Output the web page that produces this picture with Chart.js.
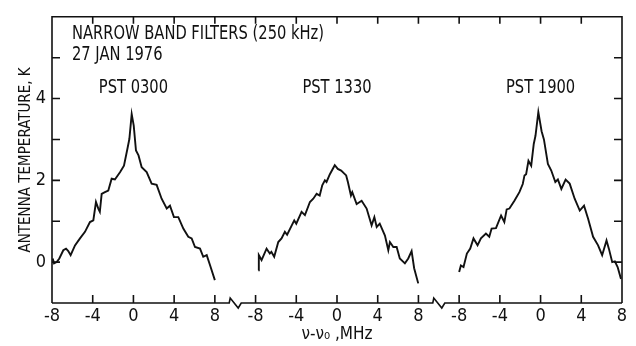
<!DOCTYPE html>
<html>
<head>
<meta charset="utf-8">
<script src="https://cdn.jsdelivr.net/npm/chart.js@4.4.1/dist/chart.umd.min.js"></script>
<style>
  html, body { margin: 0; padding: 0; background: #fff; }
</style>
</head>
<body>
<canvas id="chart" width="636" height="346"></canvas>
<script>
// values: frequency offset (MHz) and antenna temperature (K)
const panelLabels = ['PST 0300', 'PST 1330', 'PST 1900'];
const yLabelTicks = [0, 2, 4];

const freq0300 = [-7.93, -7.8, -7.54, -7.28, -6.89, -6.62, -6.4, -6.17, -5.74, -5.25, -4.76, -4.27, -3.94, -3.68, -3.45, -3.3, -3.12, -2.8, -2.47, -2.14, -1.82, -1.32, -0.93, -0.6, -0.4, -0.17, 0.03, 0.25, 0.5, 0.81, 1.3, 1.79, 2.28, 2.77, 3.27, 3.59, 3.98, 4.41, 4.9, 5.39, 5.72, 6.05, 6.54, 6.86, 7.2, 7.52, 8.0];
const temp0300 = [0.09, -0.03, 0.0, 0.09, 0.29, 0.33, 0.27, 0.17, 0.41, 0.58, 0.74, 0.98, 1.02, 1.47, 1.31, 1.23, 1.67, 1.71, 1.75, 2.04, 2.02, 2.2, 2.36, 2.76, 3.01, 3.62, 3.34, 2.73, 2.61, 2.32, 2.2, 1.92, 1.89, 1.55, 1.31, 1.38, 1.1, 1.1, 0.82, 0.62, 0.58, 0.37, 0.33, 0.13, 0.17, -0.07, -0.44];

const freq1330 = [-7.73, -7.68, -7.41, -6.92, -6.6, -6.45, -6.17, -5.77, -5.45, -5.12, -4.9, -4.2, -4.0, -3.48, -3.15, -2.66, -2.33, -2.0, -1.7, -1.45, -1.19, -1.03, -0.7, -0.22, 0.08, 0.41, 0.9, 1.07, 1.37, 1.5, 1.93, 2.42, 2.91, 3.4, 3.67, 3.9, 4.2, 4.71, 5.04, 5.2, 5.53, 5.86, 6.17, 6.67, 7.0, 7.33, 7.58, 7.98];
const temp1330 = [-0.2, 0.17, 0.05, 0.33, 0.21, 0.25, 0.13, 0.49, 0.58, 0.74, 0.67, 1.02, 0.94, 1.23, 1.15, 1.47, 1.55, 1.67, 1.63, 1.88, 2.0, 1.96, 2.15, 2.37, 2.28, 2.24, 2.12, 1.96, 1.63, 1.71, 1.42, 1.5, 1.31, 0.9, 1.1, 0.86, 0.94, 0.65, 0.29, 0.49, 0.37, 0.37, 0.09, -0.03, 0.09, 0.27, -0.15, -0.52];

const freq1900 = [-8.0, -7.83, -7.57, -7.24, -6.91, -6.59, -6.19, -5.86, -5.37, -5.04, -4.81, -4.38, -3.88, -3.56, -3.33, -3.06, -2.57, -2.08, -1.75, -1.58, -1.42, -1.19, -0.92, -0.67, -0.5, -0.22, 0.1, 0.33, 0.72, 1.05, 1.45, 1.7, 2.04, 2.46, 2.86, 3.35, 3.85, 4.27, 4.67, 5.16, 5.65, 6.05, 6.48, 6.71, 7.04, 7.3, 7.57, 7.9];
const temp1900 = [-0.24, -0.08, -0.12, 0.21, 0.33, 0.58, 0.41, 0.58, 0.7, 0.62, 0.82, 0.83, 1.14, 0.98, 1.29, 1.31, 1.5, 1.71, 1.91, 2.12, 2.15, 2.48, 2.36, 2.89, 3.09, 3.67, 3.2, 3.0, 2.4, 2.24, 1.96, 2.02, 1.79, 2.02, 1.92, 1.55, 1.26, 1.38, 1.06, 0.62, 0.41, 0.17, 0.53, 0.33, 0.0, 0.02, -0.12, -0.41];

const FONT = '"Liberation Sans Narrow", "DejaVu Sans Condensed", "Arial Narrow", sans-serif';
const INK = '#111';

// the three panels share one broken x axis: each panel spans 16 MHz, with a 4 MHz gap
const PANEL_SPAN = 20;
const series = [[freq0300, temp0300], [freq1330, temp1330], [freq1900, temp1900]];
const datasets = series.map(([f, t], p) => ({
  data: f.map((v, i) => ({ x: v + p * PANEL_SPAN, y: t[i] })),
  borderColor: INK,
  borderWidth: 1.9,
  pointRadius: 0,
  tension: 0,
  fill: false
}));

const localFreq = v => ((v + 8) % PANEL_SPAN) - 8;

// narrow lettering like the original typeface
function squeezedText(ctx, text, x, y, align) {
  const k = 0.86;
  const w = ctx.measureText(text).width * k;
  const x0 = align === 'center' ? x - w / 2 : x;
  ctx.save();
  ctx.textAlign = 'left';
  ctx.translate(x0, y);
  ctx.scale(k, 1);
  ctx.fillText(text, 0, 0);
  ctx.restore();
}

const framePlugin = {
  id: 'frame',
  afterDraw(chart) {
    const { ctx, chartArea: a, scales: { x, y } } = chart;
    ctx.save();
    ctx.strokeStyle = INK;
    ctx.lineWidth = 1.6;
    ctx.beginPath();
    ctx.moveTo(a.left, a.bottom);
    ctx.lineTo(a.left, a.top);
    ctx.lineTo(a.right, a.top);
    ctx.lineTo(a.right, a.bottom);
    // bottom axis, broken between panels
    ctx.moveTo(a.left, a.bottom);
    [10, 30].forEach(v => {
      const g = x.getPixelForValue(v);
      ctx.lineTo(g - 6, a.bottom);
      ctx.lineTo(g - 5, a.bottom - 5);
      ctx.lineTo(g + 3, a.bottom + 5);
      ctx.lineTo(g + 6, a.bottom);
    });
    ctx.lineTo(a.right, a.bottom);
    // inward ticks on all four sides
    x.ticks.forEach(t => {
      const px = x.getPixelForValue(t.value);
      ctx.moveTo(px, a.bottom); ctx.lineTo(px, a.bottom - 8);
      ctx.moveTo(px, a.top); ctx.lineTo(px, a.top + 7);
    });
    y.ticks.forEach(t => {
      const py = y.getPixelForValue(t.value);
      if (t.value === y.min || t.value === y.max) return;
      ctx.moveTo(a.left, py); ctx.lineTo(a.left + 8, py);
      ctx.moveTo(a.right, py); ctx.lineTo(a.right - 8, py);
    });
    ctx.stroke();

    ctx.fillStyle = INK;
    ctx.font = '19px ' + FONT;
    ctx.textBaseline = 'alphabetic';
    squeezedText(ctx, 'NARROW BAND FILTERS (250 kHz)', a.left + 20, 39, 'left');
    squeezedText(ctx, '27 JAN 1976', a.left + 20, 60, 'left');
    panelLabels.forEach((lab, p) => {
      squeezedText(ctx, lab, x.getPixelForValue(p * PANEL_SPAN), 93, 'center');
    });
    ctx.restore();
  }
};

new Chart(document.getElementById('chart'), {
  type: 'line',
  data: { datasets },
  options: {
    responsive: false,
    animation: false,
    devicePixelRatio: 1,
    layout: { padding: { top: 13, right: 14, left: 0, bottom: 0 } },
    plugins: { legend: { display: false }, tooltip: { enabled: false } },
    scales: {
      x: {
        type: 'linear',
        min: -8,
        max: 48,
        grid: { display: false, drawTicks: false },
        border: { display: false },
        ticks: {
          stepSize: 4,
          color: INK,
          padding: 3,
          maxRotation: 0,
          autoSkip: false,
          font: { family: FONT, size: 18 },
          callback: v => String(localFreq(v))
        },
        title: {
          display: true,
          text: 'ν-ν₀ ,MHz',
          color: INK,
          font: { family: FONT, size: 17 },
          padding: { top: 0, bottom: 1 }
        },
        afterFit: s => { s.height = 43; }
      },
      y: {
        min: -1,
        max: 6,
        grid: { display: false, drawTicks: false },
        border: { display: false },
        ticks: {
          stepSize: 1,
          color: INK,
          padding: 6,
          autoSkip: false,
          font: { family: FONT, size: 18 },
          callback: v => yLabelTicks.includes(v) ? String(v) : ''
        },
        title: {
          display: true,
          text: 'ANTENNA TEMPERATURE, K',
          color: INK,
          font: { family: FONT, size: 15 },
          padding: { top: 17, bottom: 0 }
        },
        afterFit: s => { s.width = 52; }
      }
    }
  },
  plugins: [framePlugin]
});
</script>
</body>
</html>
